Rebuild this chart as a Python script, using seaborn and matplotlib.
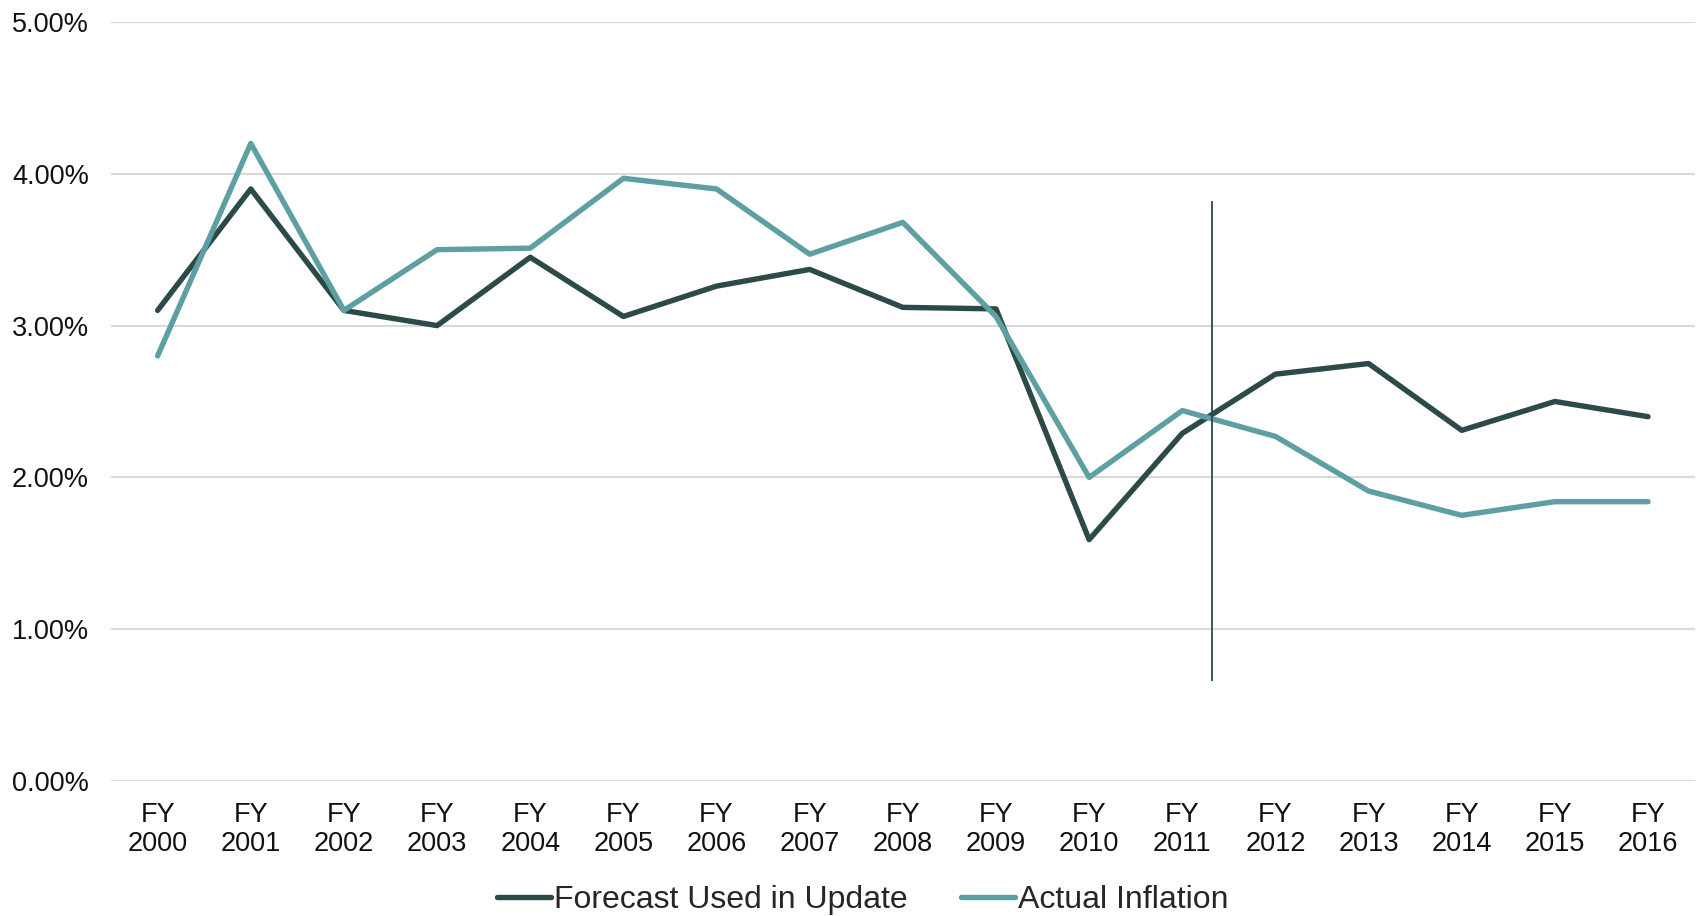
import matplotlib
matplotlib.use("Agg")
import matplotlib.pyplot as plt
import seaborn as sns
import pandas as pd
from matplotlib.ticker import FuncFormatter

years = ["FY\n2000", "FY\n2001", "FY\n2002", "FY\n2003", "FY\n2004", "FY\n2005",
         "FY\n2006", "FY\n2007", "FY\n2008", "FY\n2009", "FY\n2010", "FY\n2011",
         "FY\n2012", "FY\n2013", "FY\n2014", "FY\n2015", "FY\n2016"]
forecast = [3.10, 3.90, 3.10, 3.00, 3.45, 3.06, 3.26, 3.37, 3.12, 3.11,
            1.59, 2.29, 2.68, 2.75, 2.31, 2.50, 2.40]
actual = [2.80, 4.20, 3.10, 3.50, 3.51, 3.97, 3.90, 3.47, 3.68, 3.06,
          2.00, 2.44, 2.27, 1.91, 1.75, 1.84, 1.84]
series_names = ["Forecast Used in Update", "Actual Inflation"]
divider_x = 11.32
divider_range = (0.66, 3.82)

df = pd.DataFrame({
    "year": years * 2,
    "value": forecast + actual,
    "series": [series_names[0]] * len(years) + [series_names[1]] * len(years),
})

sns.set_theme(style="white")
plt.rcParams["font.family"] = ["Liberation Sans", "DejaVu Sans"]

fig = plt.figure(figsize=(16.98, 9.16), dpi=100)
ax = fig.add_axes([0.0654, 0.1474, 0.9326, 0.8286])

palette = {series_names[0]: "#2b4a48", series_names[1]: "#5e9fa1"}
sns.lineplot(data=df, x="year", y="value", hue="series", palette=palette,
             linewidth=3.9, ax=ax, sort=False, legend=True)

ax.vlines(divider_x, divider_range[0], divider_range[1], color="#2b4a48", linewidth=1.3, zorder=5)

ax.set_ylim(0, 5)
ax.set_yticks([0, 1, 2, 3, 4, 5])
ax.yaxis.set_major_formatter(FuncFormatter(lambda v, p: f"{v:.2f}%"))
ax.set_xlim(-0.5, len(years) - 0.5)
ax.grid(axis="y", color="#d9d9d9", linewidth=1.5)
ax.grid(axis="x", visible=False)
ax.set_axisbelow(True)
for s in ax.spines.values():
    s.set_visible(False)
ax.set_xlabel("")
ax.set_ylabel("")
ax.tick_params(axis="both", length=0, labelsize=19.5, colors="#111111")
ax.tick_params(axis="x", pad=15)
ax.tick_params(axis="y", pad=16)
for lbl in ax.get_xticklabels():
    lbl.set_linespacing(1.15)

ax.get_legend().remove()
handles, labels = ax.get_legend_handles_labels()
fig.legend(handles, labels, loc="lower center", bbox_to_anchor=(0.508, -0.03), ncol=2,
           frameon=False, handlelength=1.7, handletextpad=0.1, columnspacing=1.65,
           prop={"family": ["Liberation Sans Narrow", "Liberation Sans", "DejaVu Sans"], "size": 23})

fig.savefig("out.png", dpi=100, facecolor="white")
